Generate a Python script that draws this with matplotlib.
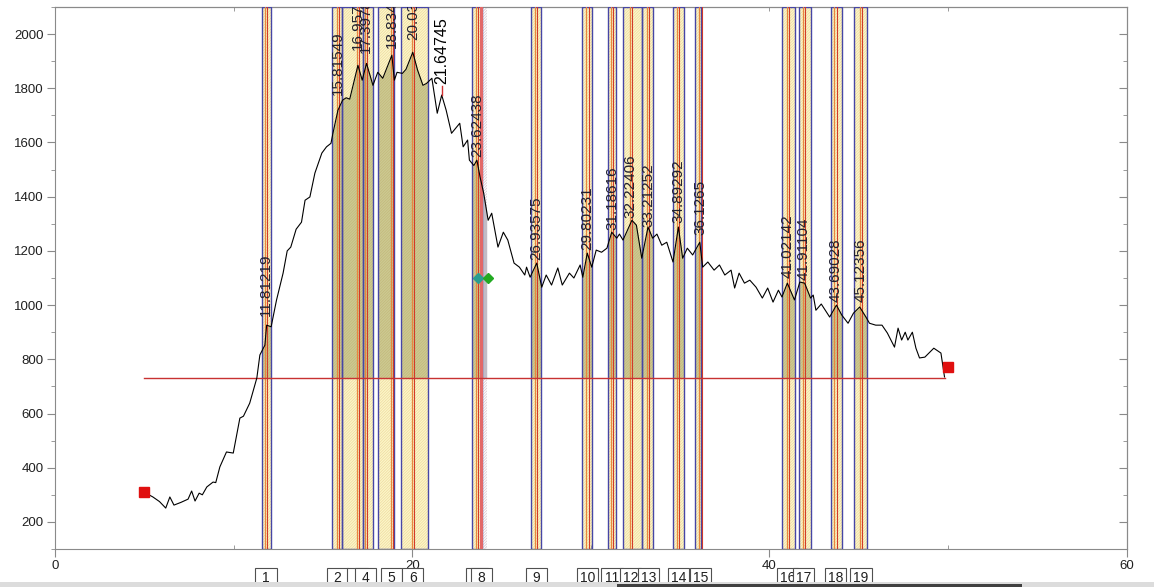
import matplotlib
matplotlib.use("Agg")
import matplotlib.pyplot as plt
import matplotlib.transforms as mtransforms
from matplotlib.patches import Rectangle
from matplotlib.ticker import MultipleLocator, FixedLocator
import numpy as np

plt.rcParams['font.family'] = ['Liberation Sans', 'DejaVu Sans']
plt.rcParams['hatch.linewidth'] = 0.5

# sinal do cromatograma
tempo = [4.98, 5.48, 5.85, 6.20, 6.43, 6.66, 7.05, 7.45, 7.65, 7.84, 8.07, 8.25, 8.50, 8.85,
         9.00, 9.23, 9.60, 9.98, 10.35, 10.55, 10.90, 11.30, 11.47, 11.75, 11.85, 12.10, 12.40,
         12.77, 13.00, 13.20, 13.50, 13.80, 14.00, 14.27, 14.55, 14.94, 15.20, 15.45, 15.56,
         15.84, 16.10, 16.30, 16.50, 16.96, 17.20, 17.44, 17.80, 18.07, 18.35, 18.86, 19.00,
         19.15, 19.45, 19.65, 20.03, 20.30, 20.60, 20.80, 21.10, 21.40, 21.65, 21.90, 22.20,
         22.66, 22.85, 23.10, 23.20, 23.45, 23.62, 23.80, 24.00, 24.25, 24.45, 24.80, 25.10,
         25.35, 25.70, 26.00, 26.30, 26.40, 26.60, 26.97, 27.25, 27.50, 27.80, 28.15, 28.40,
         28.80, 29.05, 29.40, 29.55, 29.80, 30.05, 30.30, 30.60, 30.90, 31.17, 31.45, 31.60,
         31.80, 32.30, 32.55, 32.85, 33.20, 33.46, 33.70, 33.97, 34.25, 34.60, 34.90, 35.14,
         35.40, 35.70, 36.10, 36.26, 36.55, 36.90, 37.20, 37.50, 37.85, 38.05, 38.30, 38.60,
         38.90, 39.25, 39.60, 39.90, 40.20, 40.50, 40.70, 41.00, 41.40, 41.70, 41.97, 42.30,
         42.45, 42.60, 42.90, 43.37, 43.75, 44.05, 44.40, 44.70, 45.05, 45.40, 45.60, 45.95,
         46.30, 46.60, 47.00, 47.20, 47.40, 47.60, 47.75, 48.00, 48.20, 48.40, 48.70, 49.20,
         49.60, 49.80]
sinal = [310, 292, 275, 251, 292, 262, 272, 284, 314, 277, 306, 300, 329, 347,
         345, 403, 458, 454, 583, 590, 638, 731, 816, 852, 926, 920, 1018,
         1118, 1200, 1214, 1280, 1306, 1387, 1399, 1487, 1561, 1584, 1597, 1634,
         1719, 1756, 1765, 1760, 1885, 1830, 1892, 1811, 1859, 1837, 1922, 1830,
         1859, 1855, 1870, 1933, 1867, 1811, 1818, 1837, 1708, 1775, 1719, 1634,
         1671, 1584, 1609, 1535, 1515, 1535, 1472, 1413, 1313, 1339, 1214, 1269,
         1240, 1155, 1140, 1111, 1140, 1103, 1155, 1066, 1111, 1074, 1137, 1074,
         1118, 1100, 1148, 1103, 1192, 1140, 1203, 1195, 1210, 1269, 1247, 1262,
         1240, 1313, 1295, 1173, 1288, 1247, 1262, 1221, 1232, 1159, 1288, 1173,
         1210, 1185, 1232, 1140, 1159, 1129, 1148, 1111, 1129, 1063, 1118, 1081,
         1092, 1066, 1026, 1063, 1011, 1055, 1030, 1081, 1019, 1085, 1081, 1026,
         1037, 981, 1004, 956, 1000, 963, 933, 970, 993, 956, 933, 926,
         926, 897, 845, 915, 871, 900, 871, 900, 841, 805, 808, 841,
         823, 735]

# linha de base
base_y = 731
base_x = [4.98, 49.8]
marca_ini = (4.98, 310)
marca_fim = (49.97, 771)

# picos integrados (o 8 e o pico cinza, sem rotulo)
numeros = list(range(1, 20))
picos_rt = [11.81219, 15.81549, 16.95712, 17.39781, 18.83410, 20.03127, 23.62438, 23.87,
            26.93575, 29.80231, 31.18616, 32.22406, 33.21252, 34.89292, 36.1265,
            41.02142, 41.91104, 43.69028, 45.12356]
picos_txt = ["11.81219", "15.81549", "16.95712", "17.39781", "18.83410", "20.03127",
             "23.62438", "", "26.93575", "29.80231", "31.18616", "32.22406", "33.21252",
             "34.89292", "36.1265", "41.02142", "41.91104", "43.69028", "45.12356"]
rotulo_y = [960, 1775, 1941, 1930, 1948, 1977, 1546, 0, 1166, 1203, 1277, 1321, 1288,
            1302, 1258, 1100, 1092, 1011, 1011]
janela_ini = [11.58, 15.50, 16.06, 17.24, 18.07, 19.36, 23.33, 23.89, 26.64, 29.49, 30.95,
              31.79, 32.85, 34.58, 35.85, 40.68, 41.63, 43.42, 44.71]
janela_fim = [12.09, 16.06, 17.24, 17.80, 18.97, 20.87, 23.89, 24.17, 27.20, 30.05, 31.39,
              32.85, 33.46, 35.20, 36.18, 41.41, 42.30, 44.04, 45.44]

# pico nao integrado
pico_livre_rt = 21.64745
pico_livre_y = 1775
pico_livre_txt = "21.64745"

# marcadores verdes
losango_x = [23.67, 24.23]
losango_y = [1100, 1100]

W, H = 1154, 587
fig = plt.figure(figsize=(W / 100, H / 100), dpi=100)
ax = fig.add_axes([55 / W, 1 - 549 / H, (1126.7 - 55) / W, (549 - 7) / H])
ax.set_xlim(0, 60)
ax.set_ylim(100, 2100)

cinza = '#8a8a8a'
trans = mtransforms.blended_transform_factory(ax.transData, ax.transAxes)

for i in range(len(picos_rt)):
    a, b = janela_ini[i], janela_fim[i]
    eh_cinza = (i == 7)
    if eh_cinza:
        ax.add_patch(Rectangle((a, 0), b - a, 1, transform=trans, facecolor='white',
                               edgecolor='#d4c4cc', hatch='/' * 12, lw=0, zorder=1))
    else:
        ax.add_patch(Rectangle((a, 0), b - a, 1, transform=trans, facecolor='#fcf7c8',
                               edgecolor='#eed8a0', hatch='/' * 12, lw=0, zorder=1))
    ts = [a] + [t for t in tempo if a < t < b] + [b]
    vs = np.interp(ts, tempo, sinal)
    if eh_cinza:
        ax.fill_between(ts, vs, base_y, color='#c2bcc6', lw=0, zorder=2)
        ax.axvline(a - 0.03, color='#e26868', lw=2.2, zorder=3.5)
    else:
        ax.fill_between(ts, vs, base_y, color='#8a8c48', alpha=0.42, lw=0, zorder=2)
        ax.add_patch(Rectangle((a, 0), b - a, 1, transform=trans, fill=False,
                               edgecolor='#4646a6', lw=1, zorder=3))
        ax.axvline(picos_rt[i] - 0.05, color='#e8863e', lw=0.9, zorder=3.5)
        ax.axvline(picos_rt[i] + 0.07, color='#d23a2a', lw=0.8, zorder=3.5)

ax.plot(base_x, [base_y, base_y], color='#c83232', lw=1, zorder=4.5)
ax.plot(tempo, sinal, color='black', lw=0.8, zorder=5)
ax.plot([marca_ini[0]], [marca_ini[1]], 's', color='#e01010', ms=6.5, zorder=6)
ax.plot([marca_fim[0]], [marca_fim[1]], 's', color='#e01010', ms=6.5, zorder=6)
ax.plot([losango_x[0]], [losango_y[0]], 'D', color='#2a9d8f', ms=5.5, zorder=6)
ax.plot([losango_x[1]], [losango_y[1]], 'D', color='#22aa22', ms=5.5, zorder=6)

# rotulos dos picos
for rt, txt, ly in zip(picos_rt, picos_txt, rotulo_y):
    if txt:
        ax.text(rt, ly, txt, rotation=90, ha='center', va='bottom', fontsize=11,
                color='#202030', clip_on=True, zorder=7)
ax.plot([pico_livre_rt, pico_livre_rt], [pico_livre_y, pico_livre_y + 35],
        color='#d03030', lw=1, zorder=6)
ax.text(pico_livre_rt, pico_livre_y + 40, pico_livre_txt, rotation=90, ha='center',
        va='bottom', fontsize=11.5, color='black', clip_on=True, zorder=7)

# eixos
for s in ax.spines.values():
    s.set_color(cinza)
ax.xaxis.set_major_locator(MultipleLocator(20))
ax.xaxis.set_minor_locator(MultipleLocator(10))
ax.yaxis.set_minor_locator(MultipleLocator(100))
ax.set_yticks([200, 400, 600, 800, 1000, 1200, 1400, 1600, 1800, 2000])
ax.tick_params(axis='both', which='major', direction='out', length=6, color=cinza,
               labelsize=9.5, labelcolor='#202020', pad=2)
ax.tick_params(axis='y', which='minor', direction='out', length=3, color=cinza)
ax.tick_params(axis='x', which='minor', direction='in', length=3, color=cinza)

ax_dir = ax.secondary_yaxis('right')
ax_dir.yaxis.set_major_locator(MultipleLocator(200))
ax_dir.yaxis.set_minor_locator(MultipleLocator(100))
ax_dir.tick_params(which='major', direction='in', length=6, color=cinza, labelright=False)
ax_dir.tick_params(which='minor', direction='in', length=3, color=cinza)
ax_dir.spines['right'].set_color(cinza)

ax_topo = ax.secondary_xaxis('top')
ax_topo.xaxis.set_major_locator(FixedLocator([]))
ax_topo.xaxis.set_minor_locator(MultipleLocator(10))
ax_topo.tick_params(which='minor', direction='in', length=3, color=cinza)
ax_topo.tick_params(which='major', labeltop=False)
ax_topo.spines['top'].set_color(cinza)

# caixas numeradas abaixo do eixo
tb = mtransforms.blended_transform_factory(ax.transData, fig.transFigure)
for k, (n, rt) in enumerate(zip(numeros, picos_rt)):
    ax.add_patch(Rectangle((rt - 0.59, -0.02), 1.18, 0.0324 + 0.02, transform=tb,
                           facecolor='white', edgecolor='#505050', lw=0.8,
                           clip_on=False, zorder=10 + 2 * k))
    ax.text(rt, 0.0145, str(n), transform=tb, ha='center', va='center', fontsize=10,
            color='#202020', clip_on=False, zorder=11 + 2 * k)

# barra inferior da captura de tela
fig.add_artist(Rectangle((0, 0), 1, 5 / H, transform=fig.transFigure,
                         facecolor='#dcdcdc', edgecolor='none', zorder=50))
fig.add_artist(Rectangle((617 / W, 0), 405 / W, 3 / H, transform=fig.transFigure,
                         facecolor='#404040', edgecolor='none', zorder=51))

fig.savefig("out.png", dpi=100)
